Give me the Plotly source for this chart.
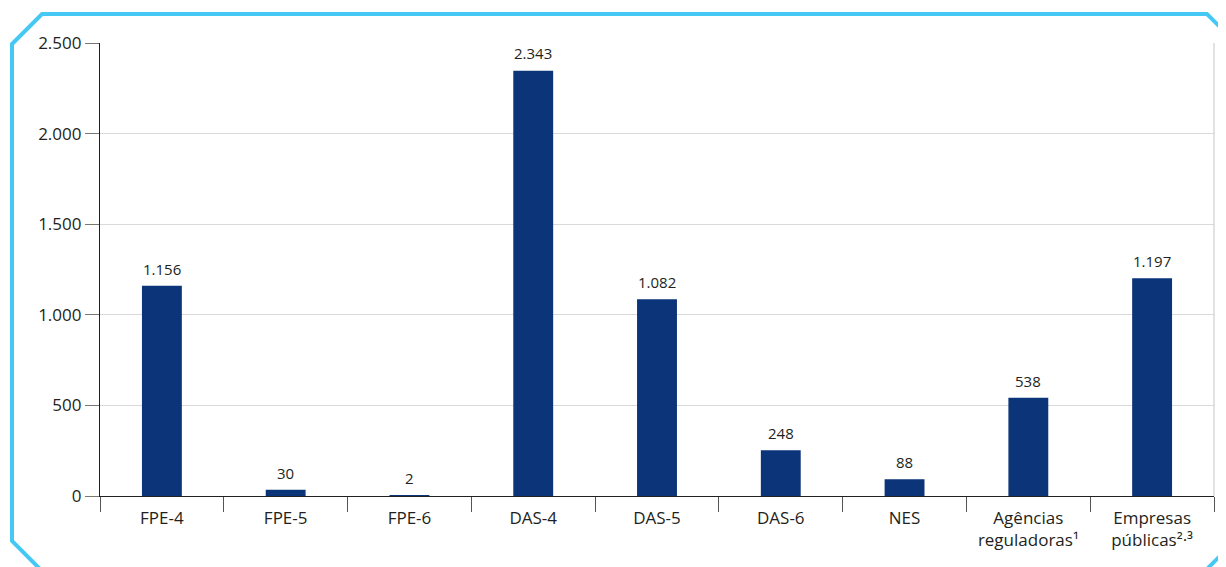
import plotly.graph_objects as go

categories = ["FPE-4", "FPE-5", "FPE-6", "DAS-4", "DAS-5", "DAS-6", "NES",
              "Agências<br>reguladoras¹", "Empresas<br>públicas²·³"]
values = [1156, 30, 2, 2343, 1082, 248, 88, 538, 1197]
y_ticks = [0, 500, 1000, 1500, 2000, 2500]

# page body has an 8px margin; compensate so the chart sits where the reference does
OFF = 8
W, H = 1226 - OFF, 567 - OFF
L, T = 100 - OFF, 43 - OFF
R = W - (1214 - OFF)
B = H - (496 - OFF)
pw, ph = W - L - R, H - T - B

def px(x):
    return (x - OFF - L) / pw

def py(y):
    return (H - B - (y - OFF)) / ph

fig = go.Figure()
fig.add_trace(go.Bar(
    x=categories, y=values, width=0.31,
    marker=dict(color="#0B3479", line=dict(width=1.5, color="#0B3479")),
    hoverinfo="skip",
))
for c, v in zip(categories, values):
    fig.add_annotation(x=c, y=v, text=f"{v:,}".replace(",", "."), showarrow=False,
                       yanchor="bottom", yshift=6,
                       font=dict(size=15, color="#231F20", family="Open Sans"))

# cyan frame
pts = [(12, 44), (42, 14), (1207, 14), (1228, 35), (1228, 548), (1207, 569),
       (40, 569), (12, 541)]
path = "M " + " L ".join(f"{px(x):.5f},{py(y):.5f}" for x, y in pts) + " Z"
fig.add_shape(type="path", xref="paper", yref="paper", path=path,
              line=dict(color="#45C8F4", width=4), layer="below")
# right grey border of plot area
fig.add_shape(type="line", xref="paper", yref="paper", x0=1, x1=1, y0=0, y1=1,
              line=dict(color="#D9D9D9", width=1.5))

fig.update_layout(
    width=W, height=H, margin=dict(l=L, r=R, t=T, b=B),
    paper_bgcolor="white", plot_bgcolor="white",
    separators=",.", showlegend=False,
    font=dict(family="Open Sans", color="#231F20", size=17),
)
fig.update_xaxes(
    showline=True, linecolor="#231F20", linewidth=1.2,
    ticks="outside", tickson="boundaries", ticklen=15, tickcolor="#555555", tickwidth=1,
    tickfont=dict(size=17, color="#231F20"), showgrid=False,
    ticklabelstandoff=6,
)
fig.update_yaxes(
    range=[0, 2500], tickvals=y_ticks, tickformat=",d",
    showline=True, linecolor="#231F20", linewidth=1.2,
    ticks="outside", ticklen=14, tickcolor="#777777",
    showgrid=True, gridcolor="#D9D9D9", gridwidth=1, zeroline=False,
    tickfont=dict(size=17, color="#231F20"),
)
fig.write_html("out.html")
